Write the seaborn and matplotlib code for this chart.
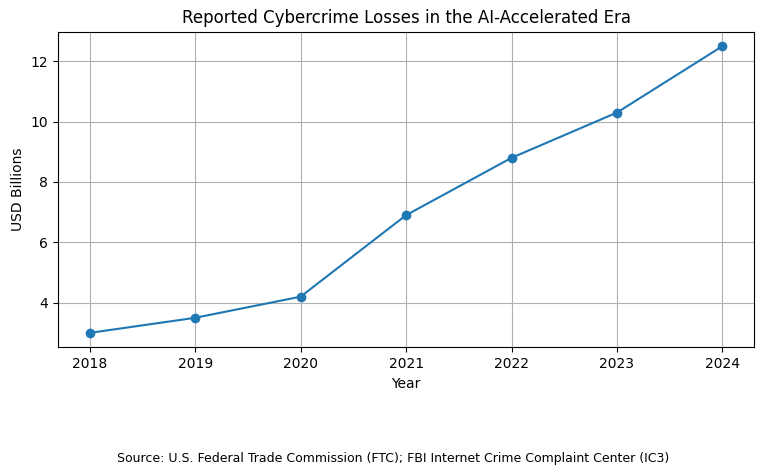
import matplotlib
matplotlib.use('Agg')
import matplotlib.pyplot as plt
import seaborn as sns
import pandas as pd

years = [2018, 2019, 2020, 2021, 2022, 2023, 2024]
losses = [3.0, 3.5, 4.2, 6.9, 8.8, 10.3, 12.5]

df = pd.DataFrame({'Year': years, 'Losses': losses})

fig, ax = plt.subplots(figsize=(7.64, 4.75), dpi=100)
sns.lineplot(data=df, x='Year', y='Losses', marker='o', markersize=7,
             markeredgewidth=0, color='#1f77b4', ax=ax)
ax.set_title('Reported Cybercrime Losses in the AI-Accelerated Era')
ax.set_xlabel('Year')
ax.set_ylabel('USD Billions')
ax.set_xticks(years)
ax.grid(True)
fig.text(0.515, 0.028, 'Source: U.S. Federal Trade Commission (FTC); FBI Internet Crime Complaint Center (IC3)',
         ha='center', fontsize=9)
fig.subplots_adjust(left=0.076, right=0.987, top=0.933, bottom=0.269)
fig.savefig('out.png', dpi=100)
